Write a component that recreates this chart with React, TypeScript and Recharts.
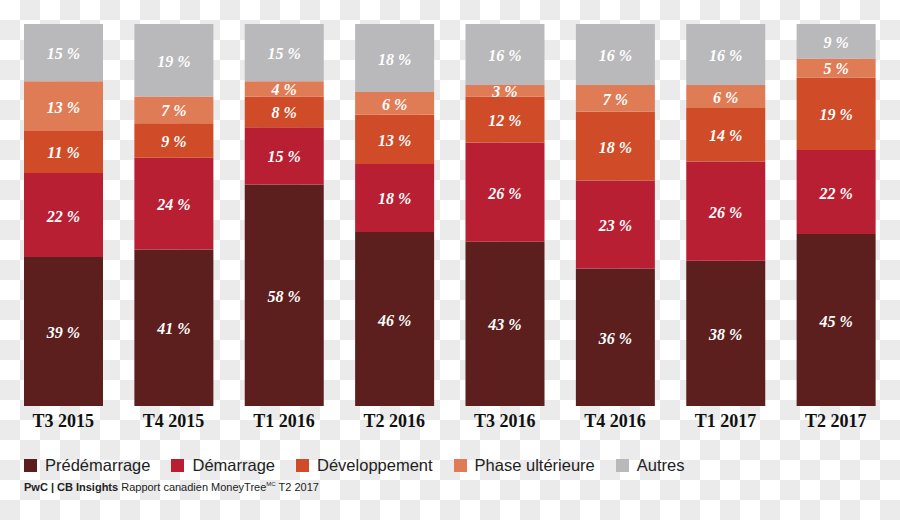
import { Bar, BarChart, LabelList, XAxis, YAxis } from "recharts";

const quarters = ["T3 2015", "T4 2015", "T1 2016", "T2 2016", "T3 2016", "T4 2016", "T1 2017", "T2 2017"];
const predemarrage = [39, 41, 58, 46, 43, 36, 38, 45];
const demarrage = [22, 24, 15, 18, 26, 23, 26, 22];
const developpement = [11, 9, 8, 13, 12, 18, 14, 19];
const phaseUlterieure = [13, 7, 4, 6, 3, 7, 6, 5];
const autres = [15, 19, 15, 18, 16, 16, 16, 9];

const series = [
  { key: "pre", name: "Prédémarrage", color: "#5c1f1e", values: predemarrage },
  { key: "dem", name: "Démarrage", color: "#b81f33", values: demarrage },
  { key: "dev", name: "Développement", color: "#d04b27", values: developpement },
  { key: "phase", name: "Phase ultérieure", color: "#df7c56", values: phaseUlterieure },
  { key: "autres", name: "Autres", color: "#b9b8bb", values: autres },
];

const data = quarters.map((q, i) => {
  const row: Record<string, string | number> = { quarter: q };
  series.forEach((s) => {
    row[s.key] = s.values[i];
  });
  return row;
});

function pctLabel(values: number[]) {
  return (props: any) => {
    const { x, y, width, height, index } = props;
    return (
      <text
        x={Number(x) + Number(width) / 2}
        y={Number(y) + Number(height) / 2 + 1}
        fill="#ffffff"
        textAnchor="middle"
        dominantBaseline="central"
        fontFamily="'Liberation Serif', serif"
        fontStyle="italic"
        fontWeight="bold"
        fontSize={16}
      >
        {values[index]} %
      </text>
    );
  };
}

export default function App() {
  return (
    <div
      style={{
        position: "absolute",
        left: 0,
        top: 0,
        width: 900,
        height: 520,
        backgroundColor: "#ffffff",
        backgroundImage: "repeating-conic-gradient(#ebebeb 0% 25%, #ffffff 0% 50%)",
        backgroundSize: "40px 40px",
        overflow: "hidden",
      }}
    >
      <BarChart
        width={900}
        height={440}
        data={data}
        stackOffset="expand"
        margin={{ top: 24, right: 9, left: 8, bottom: 0 }}
        barSize={79}
      >
        <XAxis
          dataKey="quarter"
          axisLine={false}
          tickLine={false}
          height={34}
          interval={0}
          tick={{
            fill: "#111111",
            fontFamily: "'Liberation Serif', serif",
            fontWeight: "bold",
            fontSize: 18,
          }}
        />
        <YAxis hide domain={[0, 1]} />
        {series.map((s) => (
          <Bar key={s.key} dataKey={s.key} name={s.name} stackId="a" fill={s.color} isAnimationActive={false}>
            <LabelList dataKey={s.key} content={pctLabel(s.values)} />
          </Bar>
        ))}
      </BarChart>
      <div
        style={{
          position: "absolute",
          left: 24,
          top: 456,
          display: "flex",
          alignItems: "center",
          fontFamily: "'Liberation Sans', Arial, sans-serif",
          fontSize: 16.5,
          color: "#222222",
        }}
      >
        {series.map((s) => (
          <div key={s.key} style={{ display: "flex", alignItems: "center", marginRight: 21 }}>
            <span style={{ width: 13, height: 13, background: s.color, marginRight: 8, display: "inline-block" }} />
            <span>{s.name}</span>
          </div>
        ))}
      </div>
      <div
        style={{
          position: "absolute",
          left: 24,
          top: 481,
          fontFamily: "'Liberation Sans', Arial, sans-serif",
          fontSize: 11,
          color: "#222222",
          whiteSpace: "nowrap",
        }}
      >
        <b>PwC | CB Insights</b> Rapport canadien MoneyTree
        <sup style={{ fontSize: 6 }}>MC</sup> T2 2017
      </div>
    </div>
  );
}
